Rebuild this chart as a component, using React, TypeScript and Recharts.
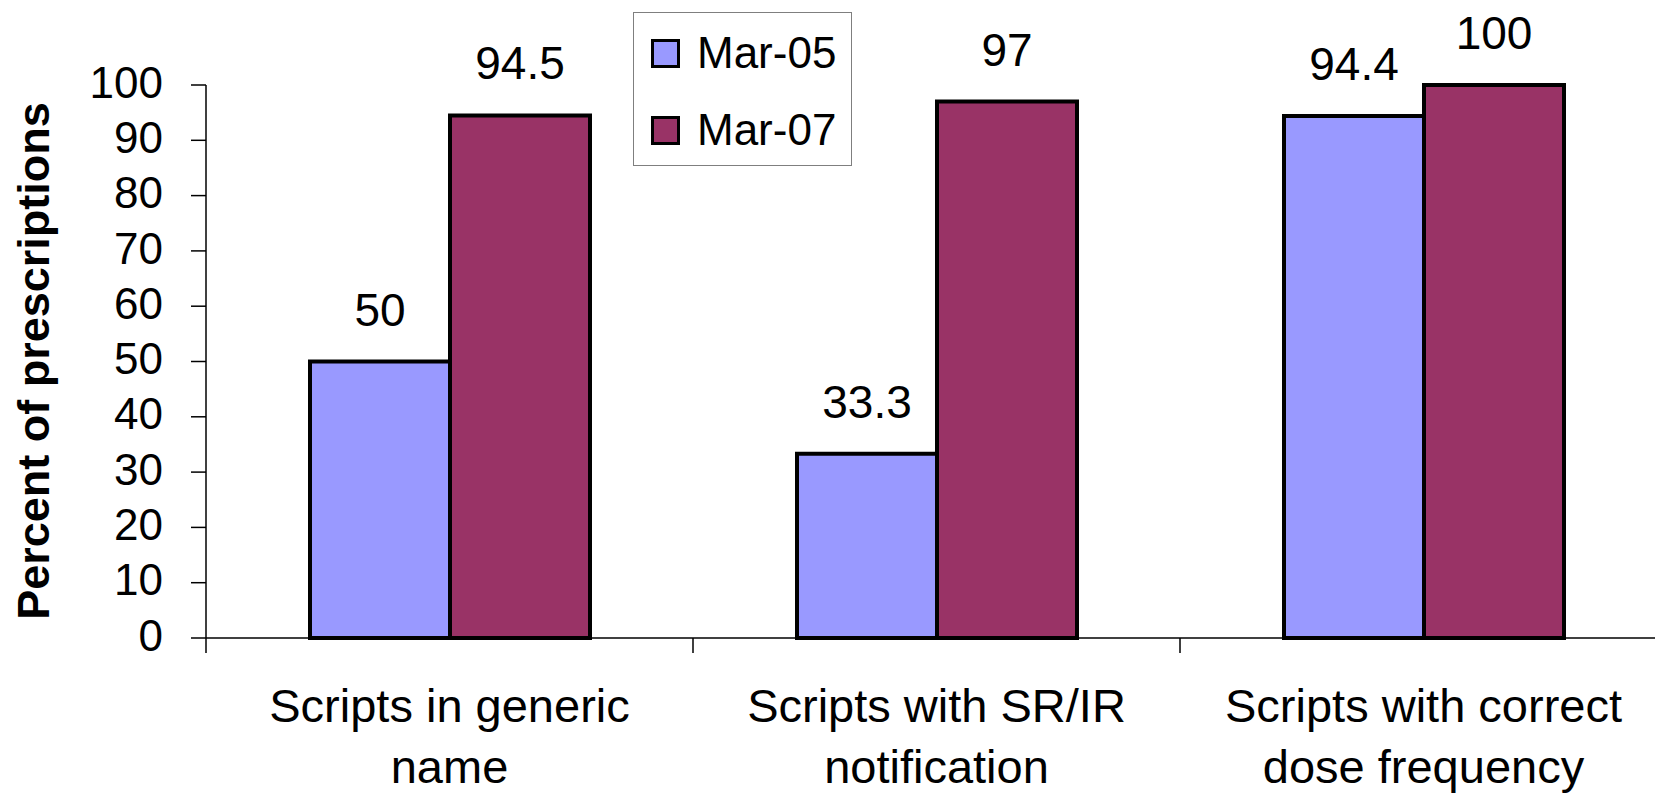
import React from 'react';
import { BarChart, Bar, XAxis, YAxis, Legend, LabelList } from 'recharts';

const categories = [
  'Scripts in generic\nname',
  'Scripts with SR/IR\nnotification',
  'Scripts with correct\ndose frequency',
];
const mar05 = [50, 33.3, 94.4];
const mar07 = [94.5, 97, 100];
const yTicks = [0, 10, 20, 30, 40, 50, 60, 70, 80, 90, 100];

const data = categories.map((name, i) => ({ name, mar05: mar05[i], mar07: mar07[i] }));

const FONT = '"Liberation Sans", Arial, sans-serif';
const CHART_W = 1700;
const CHART_H = 793;
const PLOT_LEFT = 206;
const PLOT_RIGHT = 1667;
const BAND = (PLOT_RIGHT - PLOT_LEFT) / categories.length;

function CategoryTick(props: any) {
  const { x, y, payload } = props;
  const lines = String(payload.value).split('\n');
  return (
    <g>
      <line x1={x - BAND / 2} x2={x - BAND / 2} y1={y} y2={y + 15} stroke="#000" strokeWidth={1.5} />
      <text x={x} y={y + 84} textAnchor="middle" fontSize={47} fontFamily={FONT} fill="#000">
        {lines.map((ln, i) => (
          <tspan key={i} x={x} dy={i === 0 ? 0 : 61}>
            {ln}
          </tspan>
        ))}
      </text>
    </g>
  );
}

function LegendBox(props: any) {
  const { payload = [] } = props;
  return (
    <div
      style={{
        width: 219,
        height: 154,
        boxSizing: 'border-box',
        border: '1px solid #7f7f7f',
        background: '#fff',
        position: 'relative',
        fontFamily: FONT,
      }}
    >
      {payload.map((p: any, i: number) => (
        <div
          key={p.value}
          style={{
            position: 'absolute',
            left: 17,
            top: 40 + i * 77 - 25,
            height: 50,
            display: 'flex',
            alignItems: 'center',
          }}
        >
          <span
            style={{
              width: 29,
              height: 29,
              boxSizing: 'border-box',
              border: '3px solid #000',
              background: p.color,
              display: 'inline-block',
            }}
          />
          <span style={{ marginLeft: 17, fontSize: 44, color: '#000', lineHeight: '50px' }}>{p.value}</span>
        </div>
      ))}
    </div>
  );
}

export default function App() {
  return (
    <div
      style={{
        position: 'absolute',
        left: 0,
        top: 0,
        width: 1655,
        height: 793,
        overflow: 'hidden',
        background: '#fff',
        fontFamily: FONT,
      }}
    >
      <BarChart
        width={CHART_W}
        height={CHART_H}
        data={data}
        margin={{ top: 85, right: CHART_W - PLOT_RIGHT, bottom: 0, left: 0 }}
        barGap={0}
        barSize={140}
      >
        <XAxis
          dataKey="name"
          height={CHART_H - 638}
          tickLine={false}
          tickSize={0}
          tickMargin={0}
          interval={0}
          axisLine={{ stroke: '#000', strokeWidth: 1.5 }}
          tick={<CategoryTick />}
        />
        <YAxis
          width={PLOT_LEFT}
          domain={[0, 100]}
          ticks={yTicks}
          interval={0}
          tickSize={15}
          tickMargin={28}
          axisLine={{ stroke: '#000', strokeWidth: 1.5 }}
          tickLine={{ stroke: '#000', strokeWidth: 1.5 }}
          tick={{ fontSize: 44, fill: '#000', fontFamily: FONT, dy: -3 }}
          label={{
            content: () => (
              <text
                x={49}
                y={361}
                transform="rotate(-90 49 361)"
                textAnchor="middle"
                fontSize={45}
                fontWeight="bold"
                fontFamily={FONT}
                fill="#000"
              >
                Percent of prescriptions
              </text>
            ),
          }}
        />
        <Legend
          layout="vertical"
          align="center"
          verticalAlign="middle"
          content={<LegendBox />}
          wrapperStyle={{ position: 'absolute', left: 633, top: 12, width: 219, height: 154 }}
        />
        <Bar dataKey="mar05" name="Mar-05" fill="#9999FF" stroke="#000" strokeWidth={4} isAnimationActive={false}>
          <LabelList dataKey="mar05" position="top" offset={36} fontSize={46} fill="#000" fontFamily={FONT} />
        </Bar>
        <Bar dataKey="mar07" name="Mar-07" fill="#993366" stroke="#000" strokeWidth={4} isAnimationActive={false}>
          <LabelList dataKey="mar07" position="top" offset={36} fontSize={46} fill="#000" fontFamily={FONT} />
        </Bar>
      </BarChart>
    </div>
  );
}
